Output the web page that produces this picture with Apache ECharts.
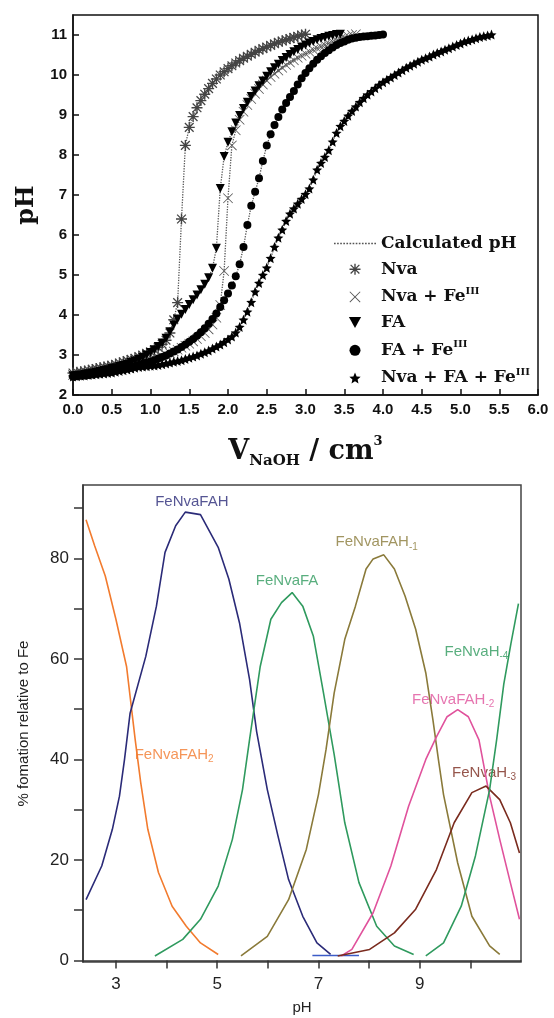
<!DOCTYPE html>
<html>
<head>
<meta charset="utf-8">
<script src="https://cdn.jsdelivr.net/npm/echarts@6/dist/echarts.min.js"></script>
<style>
  html, body { margin: 0; padding: 0; background: #fff; }
  #main { width: 554px; height: 1018px; }
</style>
</head>
<body>
<div id="main"></div>
<script>
// ---- top panel: titration curves (pH vs V NaOH) ----
var vol = [0,0.05,0.1,0.15,0.2,0.25,0.3,0.35,0.4,0.45,0.5,0.55,0.6,0.65,0.7,0.75,0.8,0.85,0.9,0.95,
  1,1.05,1.1,1.15,1.2,1.25,1.3,1.35,1.4,1.45,1.5,1.55,1.6,1.65,1.7,1.75,1.8,1.85,1.9,1.95,
  2,2.05,2.1,2.15,2.2,2.25,2.3,2.35,2.4,2.45,2.5,2.55,2.6,2.65,2.7,2.75,2.8,2.85,2.9,2.95,
  3,3.05,3.1,3.15,3.2,3.25,3.3,3.35,3.4,3.45,3.5,3.55,3.6,3.65,3.7,3.75,3.8,3.85,3.9,3.95,
  4,4.05,4.1,4.15,4.2,4.25,4.3,4.35,4.4,4.45,4.5,4.55,4.6,4.65,4.7,4.75,4.8,4.85,4.9,4.95,
  5,5.05,5.1,5.15,5.2,5.25,5.3,5.35,5.4];

var phNva = [2.55,2.57,2.58,2.60,2.62,2.64,2.66,2.68,2.70,2.72,
  2.74,2.77,2.80,2.83,2.86,2.89,2.92,2.96,3.00,3.04,
  3.08,3.13,3.19,3.27,3.37,3.55,3.88,4.31,6.40,8.24,
  8.69,8.96,9.18,9.36,9.52,9.66,9.79,9.90,10.00,10.08,
  10.16,10.23,10.30,10.36,10.42,10.47,10.52,10.57,10.62,10.66,
  10.70,10.74,10.78,10.82,10.85,10.88,10.91,10.94,10.97,11.00,
  11.02];

var phNvaFe = [2.50,2.51,2.52,2.53,2.55,2.56,2.58,2.59,2.61,2.63,
  2.65,2.67,2.69,2.71,2.73,2.75,2.78,2.80,2.83,2.85,
  2.88,2.91,2.94,2.97,3.01,3.05,3.09,3.13,3.18,3.23,
  3.28,3.34,3.40,3.47,3.55,3.64,3.76,3.93,4.25,5.10,
  6.92,8.24,8.62,8.88,9.08,9.25,9.40,9.53,9.65,9.76,
  9.86,9.95,10.03,10.11,10.18,10.25,10.31,10.37,10.43,10.48,
  10.53,10.58,10.63,10.67,10.71,10.75,10.79,10.83,10.87,10.90,
  10.94,10.97,11.00,11.02];

var phFA = [2.48,2.49,2.50,2.52,2.53,2.55,2.57,2.59,2.61,2.63,
  2.66,2.68,2.71,2.74,2.77,2.81,2.85,2.89,2.94,3.00,
  3.06,3.13,3.21,3.30,3.42,3.58,3.75,3.90,4.02,4.14,
  4.26,4.38,4.50,4.63,4.77,4.93,5.17,5.67,7.16,7.96,
  8.32,8.58,8.80,8.99,9.16,9.32,9.46,9.60,9.73,9.85,
  9.97,10.08,10.18,10.27,10.36,10.44,10.51,10.58,10.64,10.70,
  10.75,10.80,10.84,10.88,10.91,10.94,10.97,10.99,11.01,11.02];

var phFAFe = [2.46,2.47,2.48,2.49,2.50,2.51,2.53,2.54,2.56,2.57,
  2.59,2.61,2.63,2.65,2.67,2.70,2.72,2.75,2.78,2.81,
  2.84,2.87,2.91,2.95,2.99,3.04,3.09,3.14,3.20,3.26,
  3.33,3.40,3.48,3.57,3.67,3.78,3.90,4.04,4.20,4.37,
  4.54,4.74,4.97,5.27,5.70,6.25,6.73,7.08,7.42,7.85,
  8.24,8.52,8.75,8.95,9.14,9.30,9.45,9.60,9.76,9.92,
  10.05,10.17,10.28,10.38,10.47,10.55,10.62,10.69,10.75,10.80,
  10.84,10.88,10.91,10.93,10.95,10.96,10.97,10.98,10.99,11.00,
  11.01];

var phNvaFAFe = [2.46,2.47,2.48,2.49,2.50,2.51,2.52,2.53,2.54,2.55,
  2.56,2.58,2.60,2.62,2.64,2.66,2.68,2.70,2.71,2.72,
  2.73,2.74,2.75,2.77,2.79,2.81,2.83,2.85,2.87,2.90,
  2.93,2.96,2.99,3.03,3.07,3.11,3.16,3.21,3.26,3.32,
  3.39,3.46,3.56,3.70,3.88,4.08,4.32,4.58,4.80,5.00,
  5.18,5.42,5.70,5.93,6.13,6.35,6.53,6.66,6.78,6.90,
  7.02,7.16,7.38,7.63,7.80,7.95,8.12,8.33,8.55,8.72,
  8.85,8.98,9.10,9.21,9.32,9.42,9.51,9.59,9.67,9.75,
  9.82,9.88,9.94,10.00,10.06,10.12,10.18,10.23,10.28,10.33,
  10.38,10.42,10.46,10.51,10.55,10.59,10.63,10.67,10.71,10.75,
  10.79,10.83,10.86,10.89,10.92,10.95,10.97,10.99,11.01];

var topNames = ['Nva', 'Nva + FeIII', 'FA', 'FA + FeIII', 'Nva + FA + FeIII'];
var topPh = [phNva, phNvaFe, phFA, phFAFe, phNvaFAFe];
var phTicks = [2, 3, 4, 5, 6, 7, 8, 9, 10, 11];

// ---- bottom panel: species distribution ----
var fah2X = [2.41, 2.58, 2.79, 3.0, 3.21, 3.38, 3.49, 3.63, 3.84, 4.11, 4.39, 4.67, 5.02];
var fah2Y = [87.7, 82.5, 76.5, 67.9, 58.5, 44, 35.4, 26.1, 17.5, 10.8, 6.8, 3.5, 1.2];
var fahX = [2.41, 2.72, 2.93, 3.07, 3.17, 3.28, 3.59, 3.8, 3.97, 4.18, 4.37, 4.67, 5.02, 5.23, 5.44, 5.64, 5.78, 5.99, 6.2, 6.41, 6.69, 6.97, 7.24];
var fahY = [12.1, 18.8, 26.1, 32.7, 40.0, 49.2, 60.5, 70.5, 81.2, 86.5, 89.2, 88.7, 82.2, 75.9, 67.2, 55.9, 45.5, 34, 24.8, 16.1, 8.8, 3.5, 1.2];
var baseX = [6.88, 7.8];
var baseY = [1, 1];
var faX = [3.77, 4.32, 4.67, 5.02, 5.3, 5.5, 5.64, 5.85, 6.06, 6.27, 6.48, 6.69, 6.9, 7.1, 7.31, 7.52, 7.8, 8.15, 8.5, 8.88];
var faY = [0.9, 4.2, 8.2, 14.8, 24.1, 34, 44, 58.5, 67.9, 71.2, 73.2, 70.5, 64.5, 53.2, 41, 27.4, 15.5, 6.8, 2.9, 1.2];
var fahm1X = [5.47, 5.99, 6.41, 6.76, 7.0, 7.15, 7.31, 7.52, 7.73, 7.94, 8.08, 8.29, 8.5, 8.71, 8.92, 9.12, 9.26, 9.37, 9.47, 9.75, 10.03, 10.38, 10.58];
var fahm1Y = [0.9, 4.8, 12.1, 22.1, 33, 42, 53.2, 63.9, 70.5, 77.9, 79.9, 80.7, 77.9, 72.5, 65.9, 57.2, 47.9, 39.9, 33, 19.4, 8.8, 2.9, 1.2];
var fahm2X = [7.45, 7.66, 8.08, 8.43, 8.78, 9.12, 9.33, 9.54, 9.75, 9.96, 10.17, 10.38, 10.58, 10.79, 10.97];
var fahm2Y = [0.9, 2.2, 9.5, 18.8, 30.7, 40, 44.5, 48.5, 49.9, 48.5, 43.9, 32.7, 24.1, 15.5, 8.2];
var hm3X = [7.38, 8.01, 8.5, 8.92, 9.33, 9.68, 10.03, 10.31, 10.58, 10.79, 10.97];
var hm3Y = [0.9, 2.2, 5.5, 10.2, 18.1, 27.4, 33.4, 34.7, 32, 27.4, 21.4];
var hm4X = [9.12, 9.47, 9.82, 10.1, 10.38, 10.52, 10.66, 10.8, 10.95];
var hm4Y = [0.9, 3.5, 10.8, 20.8, 34, 44, 55, 63, 71];

var speciesX = [fah2X, fahX, baseX, faX, fahm1X, fahm2X, hm3X, hm4X];
var speciesY = [fah2Y, fahY, baseY, faY, fahm1Y, fahm2Y, hm3Y, hm4Y];
var speciesColor = ['#f27b2e', '#2b2b78', '#3c5cc8', '#2f9a5e', '#8a7a3a', '#e0529c', '#7a2b1e', '#2f9a5e'];

// curve labels: base text, subscript, anchor (pH, %), colour index
var labelBase = ['FeNvaFAH', 'FeNvaFA', 'FeNvaFAH', 'FeNvaH', 'FeNvaFAH', 'FeNvaFAH', 'FeNvaH'];
var labelSub = ['', '', '-1', '-4', '-2', '2', '-3'];
var labelX = [4.5, 6.38, 8.15, 10.12, 9.66, 4.15, 10.27];
var labelY = [91.2, 75.5, 83.2, 61.5, 51.9, 41, 37.4];
var labelColor = [1, 3, 4, 7, 5, 0, 6];

var xTicksB = [3, 4, 5, 6, 7, 8, 9, 10];
var xLabelsB = [3, 5, 7, 9];
var yTicksB = [0, 10, 20, 30, 40, 50, 60, 70, 80, 90];
var yLabelsB = [0, 20, 40, 60, 80];

function zip(xs, ys) {
  var out = [];
  for (var i = 0; i < ys.length; i++) out.push([xs[i], ys[i]]);
  return out;
}

var asterisk = 'path://M2,9 H18 V11 H2 Z M9,2 H11 V18 H9 Z M4.3,3 L17,15.7 L15.7,17 L3,4.3 Z M15.7,3 L17,4.3 L4.3,17 L3,15.7 Z';
var cross = 'path://M3.8,3 L17,16.2 L16.2,17 L3,3.8 Z M16.2,3 L17,3.8 L3.8,17 L3,16.2 Z';
var triDown = 'path://M0,0 L20,0 L10,18 Z';
var star = 'path://M10,0 L12.9,6.9 L20,7.6 L14.6,12.3 L16.2,19.5 L10,15.7 L3.8,19.5 L5.4,12.3 L0,7.6 L7.1,6.9 Z';
// dotted line icon for the "Calculated pH" legend entry
var dotted = 'path://M0,0h1.6v1.3h-1.6z M3,0h1.6v1.3h-1.6z M6,0h1.6v1.3h-1.6z M9,0h1.6v1.3h-1.6z M12,0h1.6v1.3h-1.6z M15,0h1.6v1.3h-1.6z M18,0h1.6v1.3h-1.6z M21,0h1.6v1.3h-1.6z M24,0h1.6v1.3h-1.6z M27,0h1.6v1.3h-1.6z M30,0h1.6v1.3h-1.6z M33,0h1.6v1.3h-1.6z M36,0h1.6v1.3h-1.6z M39,0h1.6v1.3h-1.6z';
var markers = [
  { symbol: asterisk, size: 11, color: '#444' },
  { symbol: cross, size: 10, color: '#555' },
  { symbol: triDown, size: 9, color: '#000' },
  { symbol: 'circle', size: 8, color: '#000' },
  { symbol: star, size: 10, color: '#000' }
];

var serif = 'DejaVu Serif';
var sans = 'Liberation Sans';
var series = [];

// calculated pH (dotted line through each set)
topPh.forEach(function (ph) {
  series.push({
    name: 'Calculated pH', type: 'line', xAxisIndex: 0, yAxisIndex: 0,
    data: zip(vol, ph), symbol: 'none', z: 1,
    itemStyle: { color: '#555' },
    lineStyle: { color: '#555', width: 1.3, type: 'dotted' }
  });
});
topPh.forEach(function (ph, i) {
  var m = markers[i];
  series.push({
    name: topNames[i], type: 'scatter', xAxisIndex: 0, yAxisIndex: 0,
    data: zip(vol, ph), symbol: m.symbol, symbolSize: m.size, z: 3,
    itemStyle: { color: m.color, opacity: 1 }
  });
});

speciesX.forEach(function (xs, i) {
  series.push({
    type: 'line', xAxisIndex: 1, yAxisIndex: 1,
    data: zip(xs, speciesY[i]), symbol: 'none',
    lineStyle: { color: speciesColor[i], width: 1.6 }
  });
});

var labelData = [];
for (var k = 0; k < labelBase.length; k++) {
  var c = speciesColor[labelColor[k]];
  labelData.push({
    value: [labelX[k], labelY[k]],
    label: {
      formatter: '{n|' + labelBase[k] + '}' + (labelSub[k] ? '{u|' + labelSub[k] + '}' : ''),
      rich: {
        n: { color: c, fontSize: 15, fontFamily: sans, lineHeight: 20 },
        u: { color: c, fontSize: 10, fontFamily: sans, lineHeight: 10, verticalAlign: 'bottom' }
      }
    }
  });
}
series.push({
  type: 'scatter', xAxisIndex: 1, yAxisIndex: 1, symbolSize: 0,
  data: labelData, silent: true,
  label: { show: true, position: 'inside' }
});

var legendData = [{ name: 'Calculated pH', icon: dotted }];
topNames.forEach(function (n, i) {
  legendData.push({ name: n, icon: markers[i].symbol });
});

var chart = echarts.init(document.getElementById('main'));
chart.setOption({
  animation: false,
  backgroundColor: '#fff',
  grid: [
    { left: 73, top: 15, width: 465, height: 380, show: true, borderColor: '#111', borderWidth: 1.5 },
    { left: 83, top: 485, width: 438, height: 477, show: true, borderColor: '#444', borderWidth: 1.5 }
  ],
  xAxis: [
    {
      type: 'value', gridIndex: 0, min: 0, max: 6, interval: 0.5,
      axisLine: { lineStyle: { color: '#111', width: 1.5 } },
      axisTick: { inside: true, length: 6, lineStyle: { color: '#111', width: 1.5 } },
      axisLabel: { margin: 7, color: '#111', fontSize: 15, fontWeight: 'bold', fontFamily: sans,
        formatter: function (v) { return v.toFixed(1); } },
      splitLine: { show: false },
      name: '{v|V}{sub|NaOH}{v| / cm}{sup|3}', nameLocation: 'middle', nameGap: 40,
      nameTextStyle: {
        rich: {
          v: { fontFamily: serif, fontWeight: 'bold', fontSize: 27, lineHeight: 34, color: '#111' },
          sub: { fontFamily: serif, fontWeight: 'bold', fontSize: 15, lineHeight: 15, verticalAlign: 'bottom', color: '#111' },
          sup: { fontFamily: serif, fontWeight: 'bold', fontSize: 13, lineHeight: 13, verticalAlign: 'top', color: '#111' }
        }
      }
    },
    {
      type: 'value', gridIndex: 1, min: 2.35, max: 11.0,
      axisLine: { lineStyle: { color: '#333', width: 1.5 } },
      axisTick: { inside: false, length: 8, customValues: xTicksB, lineStyle: { color: '#333', width: 1.5 } },
      axisLabel: { margin: 14, color: '#222', fontSize: 17, fontFamily: sans, customValues: xLabelsB },
      splitLine: { show: false },
      name: 'pH', nameLocation: 'middle', nameGap: 38,
      nameTextStyle: { fontFamily: sans, fontSize: 15, color: '#222' }
    }
  ],
  yAxis: [
    {
      type: 'value', gridIndex: 0, min: 2, max: 11.5,
      axisLine: { lineStyle: { color: '#111', width: 1.5 } },
      axisTick: { inside: true, length: 6, customValues: phTicks, lineStyle: { color: '#111', width: 1.5 } },
      axisLabel: { margin: 6, color: '#111', fontSize: 15, fontWeight: 'bold', fontFamily: sans, customValues: phTicks },
      splitLine: { show: false },
      name: 'pH', nameLocation: 'middle', nameGap: 34,
      nameTextStyle: { fontFamily: serif, fontWeight: 'bold', fontSize: 24, color: '#111' }
    },
    {
      type: 'value', gridIndex: 1, min: -0.3, max: 94.6,
      axisLine: { lineStyle: { color: '#333', width: 1.5 } },
      axisTick: { inside: false, length: 9, customValues: yTicksB, lineStyle: { color: '#333', width: 1.5 } },
      axisLabel: { margin: 14, color: '#222', fontSize: 17, fontFamily: sans, customValues: yLabelsB },
      splitLine: { show: false },
      name: '% fomation relative to Fe', nameLocation: 'middle', nameGap: 52,
      nameTextStyle: { fontFamily: sans, fontSize: 15, color: '#222' }
    }
  ],
  legend: {
    data: legendData,
    orient: 'vertical', left: 329, top: 230,
    itemWidth: 42, itemHeight: 11, itemGap: 8.7, itemStyle: { borderWidth: 0 },
    selectedMode: false,
    formatter: function (name) {
      if (name.slice(-5) === 'FeIII') return '{b|' + name.slice(0, -3) + '}{s|III}';
      return '{b|' + name + '}';
    },
    textStyle: {
      rich: {
        b: { fontFamily: serif, fontWeight: 'bold', fontSize: 17, lineHeight: 21, color: '#111' },
        s: { fontFamily: serif, fontWeight: 'bold', fontSize: 10, lineHeight: 10, verticalAlign: 'top', color: '#111' }
      }
    }
  },
  series: series
});
</script>
</body>
</html>
